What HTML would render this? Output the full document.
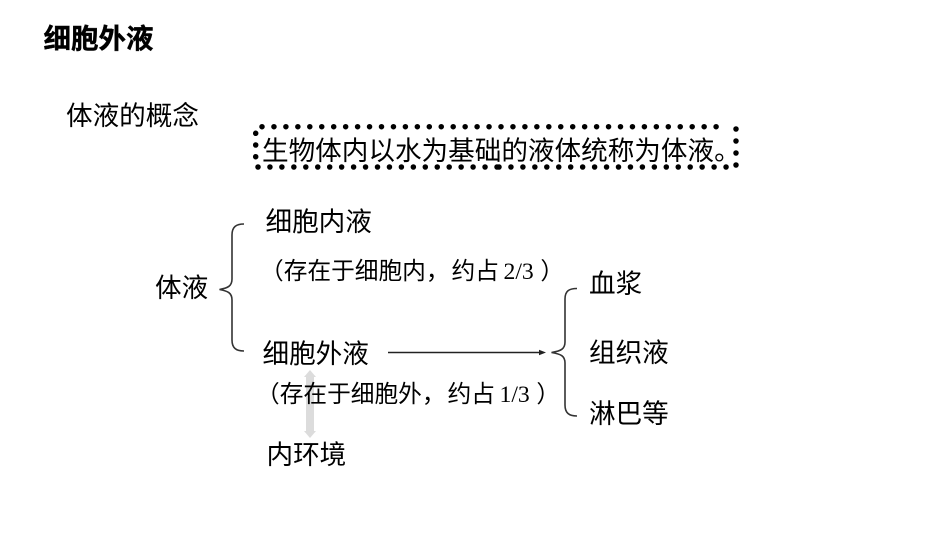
<!DOCTYPE html>
<html lang="zh">
<head>
<meta charset="utf-8">
<style>
html,body{margin:0;padding:0;background:#fff;}
#p{position:relative;width:950px;height:535px;overflow:hidden;background:#fff;color:#000;font-family:"Liberation Sans","WenQuanYi Zen Hei","Noto Sans CJK SC",sans-serif;}
.t{position:absolute;white-space:nowrap;line-height:1;font-size:26.6px;}
.s{font-size:23.7px;}
.n{font-family:"Liberation Serif",serif;font-size:23.7px;}
.a{position:relative;left:2px;}
svg{position:absolute;left:0;top:0;}
</style>
</head>
<body>
<div id="p">
<svg width="950" height="535" viewBox="0 0 950 535">
  <rect x="306" y="376" width="8" height="56" fill="#dcdcdc"/>
  <polygon points="310,370 304,377 316,377" fill="#dcdcdc"/>
  <polygon points="310,438 304,431 316,431" fill="#dcdcdc"/>
  <path d="M262 126.700H728" stroke="#000" stroke-width="5.500" stroke-linecap="round" stroke-dasharray="0 11.950" fill="none"/>
  <path d="M258 167H498" stroke="#000" stroke-width="5.500" stroke-linecap="round" stroke-dasharray="0 11.950" fill="none"/>
  <path d="M499 167H729" stroke="#000" stroke-width="5.500" stroke-linecap="round" stroke-dasharray="0 11.950" fill="none"/>
  <path d="M255.700 133.300V158" stroke="#000" stroke-width="5.500" stroke-linecap="round" stroke-dasharray="0 11.700" fill="none"/>
  <path d="M736 129V166" stroke="#000" stroke-width="5.500" stroke-linecap="round" stroke-dasharray="0 12" fill="none"/>
  <path d="M244 224C236 224 232 227 232 235V279C232 286 228 288 219.500 289.500C228 291 232 293 232 300V340C232 348 236 351 244 351" stroke="#333" stroke-width="1.600" fill="none"/>
  <path d="M577 288.500C569 288.500 565 291 565 299V342C565 349 561 351 551.500 352.500C561 354 565 356 565 363V405C565 413 569 416 577 416" stroke="#333" stroke-width="1.600" fill="none"/>
  <path d="M388 352.500H540" stroke="#222" stroke-width="1.500" fill="none"/>
  <polygon points="546,352.500 539,349.800 539,355.200" fill="#222"/>
</svg>
<div class="t" style="left:43.500px;top:25px;font-size:27.500px;font-weight:bold;-webkit-text-stroke:0.4px #000;">细胞外液</div>
<div class="t" style="left:66px;top:103px;">体液的概念</div>
<div class="t" style="left:262px;top:138px;">生物体内以水为基础的液体统称为体液。</div>
<div class="t" style="left:265.500px;top:209px;">细胞内液</div>
<div class="t" style="left:155px;top:275px;">体液</div>
<div class="t s" style="left:260px;top:261px;">（存在于细胞内，<span class="a">约占</span> <span class="n">2/3</span> ）</div>
<div class="t" style="left:262.500px;top:341px;">细胞外液</div>
<div class="t s" style="left:256px;top:384px;">（存在于细胞外，<span class="a">约占</span> <span class="n">1/3</span> ）</div>
<div class="t" style="left:266.500px;top:441.500px;">内环境</div>
<div class="t" style="left:589px;top:271px;">血浆</div>
<div class="t" style="left:589px;top:340px;">组织液</div>
<div class="t" style="left:589px;top:401px;">淋巴等</div>
</div>
</body>
</html>
